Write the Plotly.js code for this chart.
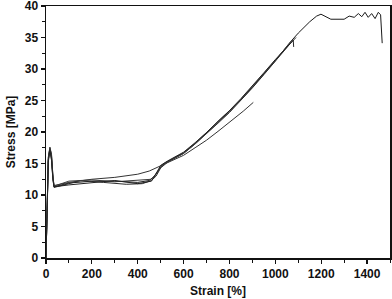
<!DOCTYPE html>
<html>
<head>
<meta charset="utf-8">
<script src="https://cdn.plot.ly/plotly-3.0.1.min.js"></script>
<style>html,body{margin:0;padding:0;background:#fff;}#chart{width:392px;height:299px;}</style>
</head>
<body>
<div id="chart"></div>
<script>
// Sample A (longest)
const strainA = [0, 5, 10, 17, 24, 30, 35, 100, 200, 300, 400, 450, 470, 490, 510, 550, 600, 650, 700, 750, 800, 850, 900, 950, 1000, 1061, 1100, 1150, 1180, 1199, 1220, 1242, 1300, 1322, 1344, 1362, 1377, 1391, 1405, 1420, 1435, 1449, 1459, 1466];
const stressA = [0, 9, 15.5, 17.5, 16.5, 13, 11.3, 11.9, 12.2, 12.2, 12.0, 12.3, 12.9, 13.9, 14.9, 15.7, 16.7, 18.2, 19.9, 21.6, 23.3, 25.1, 27.1, 29.2, 31.3, 34.1, 35.7, 37.5, 38.4, 38.7, 38.3, 37.9, 37.9, 38.4, 38.2, 38.8, 38.3, 39.0, 38.2, 38.8, 38.0, 39.0, 38.6, 34.1];
// Sample B
const strainB = [0, 5, 10, 16, 24, 30, 35, 100, 150, 250, 350, 420, 460, 480, 500, 530, 600, 650, 700, 750, 800, 850, 900, 950, 1000, 1078, 1080];
const stressB = [0, 9.5, 16, 17.3, 15.5, 12.5, 11.2, 11.8, 12.3, 12.0, 11.7, 11.8, 12.3, 13.0, 14.3, 15.2, 16.6, 18.1, 19.7, 21.4, 23.1, 25.0, 27.0, 29.1, 31.2, 34.6, 33.5];
// Sample C (short, higher plateau)
const strainC = [0, 5, 10, 17, 24, 30, 35, 100, 200, 300, 400, 450, 500, 550, 600, 650, 700, 750, 800, 860, 904];
const stressC = [0, 9, 15.5, 17.3, 16, 12.8, 11.5, 12.0, 12.5, 12.8, 13.3, 13.8, 14.6, 15.5, 16.3, 17.5, 18.7, 20.1, 21.5, 23.3, 24.7];
// Sample D
const strainD = [0, 5, 10, 17, 24, 30, 35, 100, 200, 300, 400, 460, 480, 500, 530, 600, 650, 700, 750, 800, 850, 900, 950, 1000, 1070];
const stressD = [0, 9.2, 15.8, 17.6, 16.3, 13.2, 11.4, 12.2, 12.4, 12.1, 12.3, 12.5, 13.3, 14.4, 15.3, 16.6, 18.1, 19.8, 21.5, 23.2, 25.2, 27.2, 29.3, 31.4, 34.4];
// Sample E
const strainE = [0, 5, 10, 17, 24, 30, 35, 100, 200, 300, 400, 460, 480, 500, 530, 600, 650, 700, 750, 800, 850, 900, 950, 1000, 1090];
const stressE = [0, 8.8, 15.2, 17.2, 15.7, 12.6, 11.3, 11.6, 11.9, 12.3, 11.8, 12.2, 13.4, 14.7, 15.4, 16.8, 18.3, 19.9, 21.7, 23.4, 25.3, 27.3, 29.4, 31.5, 35.0];

const xTicks = [0, 200, 400, 600, 800, 1000, 1200, 1400];
const yTicks = [0, 5, 10, 15, 20, 25, 30, 35, 40];

const series = [[strainA, stressA], [strainB, stressB], [strainC, stressC], [strainD, stressD], [strainE, stressE]];
const colors = ['#1a1a1a', '#2a2a2a', '#333333', '#3a3a3a', '#222222'];
const traces = series.map((s, i) => ({
  x: s[0], y: s[1], type: 'scatter', mode: 'lines',
  line: {color: colors[i], width: 1},
  showlegend: false, hoverinfo: 'skip'
}));

const fam = 'Liberation Sans, Arial, sans-serif';
const layout = {
  width: 392, height: 299,
  margin: {l: 46, r: 2, t: 6, b: 41},
  paper_bgcolor: '#fff', plot_bgcolor: '#fff',
  font: {family: fam, size: 12, color: '#111'},
  showlegend: false,
  xaxis: {
    range: [0, 1500], tickvals: xTicks, ticktext: xTicks.map(String),
    showgrid: false, zeroline: false, showline: true, mirror: true,
    linecolor: '#111', linewidth: 1.5,
    ticks: 'outside', ticklen: 4, tickwidth: 1.2, tickcolor: '#111',
    ticklabeloverflow: 'allow',
    minor: {tickvals: [100, 300, 500, 700, 900, 1100, 1300, 1500], ticks: 'outside', ticklen: 3, tickcolor: '#111', tickwidth: 1},
    tickfont: {family: fam, size: 12, color: '#111', weight: 'bold'},
    title: {text: '<b>Strain [%]</b>', standoff: 6, font: {family: fam, size: 12, color: '#111'}}
  },
  yaxis: {
    range: [0, 40], tickvals: yTicks, ticktext: yTicks.map(String),
    showgrid: false, zeroline: false, showline: true, mirror: true,
    linecolor: '#111', linewidth: 1.5,
    ticks: 'outside', ticklen: 4, tickwidth: 1.2, tickcolor: '#111',
    ticklabeloverflow: 'allow',
    minor: {tickvals: [2.5, 7.5, 12.5, 17.5, 22.5, 27.5, 32.5, 37.5], ticks: 'outside', ticklen: 3, tickcolor: '#111', tickwidth: 1},
    tickfont: {family: fam, size: 12, color: '#111', weight: 'bold'},
    title: {text: '<b>Stress [MPa]</b>', standoff: 6, font: {family: fam, size: 12, color: '#111'}}
  }
};
Plotly.newPlot('chart', traces, layout, {displayModeBar: false, staticPlot: true});
</script>
</body>
</html>
